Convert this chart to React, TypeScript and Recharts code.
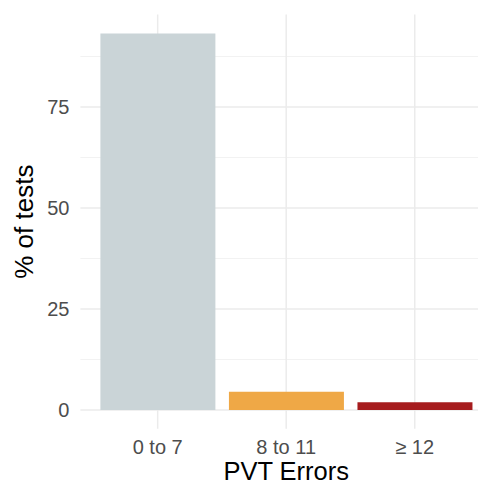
import React from "react";
import { BarChart, Bar, Cell, XAxis, YAxis, CartesianGrid } from "recharts";

const categories = ["0 to 7", "8 to 11", "≥ 12"];
const percentOfTests = [93.2, 4.5, 1.9];
const barColors = ["#cad4d7", "#efa846", "#a61c1e"];
const yTicks = [0, 25, 50, 75];
const yMinorTicks = [12.5, 37.5, 62.5, 87.5];

const data = categories.map((name, i) => ({ name, value: percentOfTests[i] }));

const FONT = '"Liberation Sans", Arial, Helvetica, sans-serif';
const X_PAD = 13;

// vertical grid lines at the centre of each category band
const categoryCentres = (props: any) => {
  const off = props.offset;
  const band = (off.width - 2 * X_PAD) / categories.length;
  return categories.map((_, i) => off.left + X_PAD + band * (i + 0.5));
};

const YTitle = (props: any) => {
  const vb = props.viewBox || {};
  const cx = 24;
  const cy = (vb.y || 0) + (vb.height || 0) / 2;
  return (
    <text
      x={cx}
      y={cy}
      transform={`rotate(-90 ${cx} ${cy})`}
      textAnchor="middle"
      dominantBaseline="central"
      fontSize={26}
      fontFamily={FONT}
      fill="#000"
    >
      % of tests
    </text>
  );
};

export default function App() {
  return (
    <div
      style={{
        position: "absolute",
        left: 0,
        top: 0,
        width: 478,
        height: 485,
        overflow: "hidden",
        background: "#fff",
      }}
    >
      <BarChart
        width={492}
        height={485}
        data={data}
        margin={{ top: 14.5, right: 0, left: 0, bottom: 0 }}
        barSize={115}
      >
        <CartesianGrid
          horizontalValues={yMinorTicks}
          vertical={false}
          stroke="#f2f2f2"
          strokeWidth={1}
        />
        <CartesianGrid
          horizontalValues={yTicks}
          verticalCoordinatesGenerator={categoryCentres}
          stroke="#ebebeb"
          strokeWidth={1.5}
        />
        <XAxis
          dataKey="name"
          height={56.2}
          padding={{ left: X_PAD, right: X_PAD }}
          tickLine={false}
          axisLine={false}
          tickSize={0}
          tickMargin={11.2}
          interval={0}
          tick={{ fontSize: 20, fill: "#4d4d4d", fontFamily: FONT }}
          label={{
            value: "PVT Errors",
            position: "insideBottom",
            offset: 5,
            fontSize: 25.5,
            fill: "#000",
            fontFamily: FONT,
          }}
        />
        <YAxis
          width={80.4}
          type="number"
          domain={[-4.66, 97.9]}
          allowDataOverflow
          ticks={yTicks}
          tickLine={false}
          axisLine={false}
          tickSize={0}
          tickMargin={11}
          tick={{ fontSize: 20, fill: "#4d4d4d", fontFamily: FONT }}
          label={{ position: "center", content: YTitle }}
        />
        <Bar dataKey="value" isAnimationActive={false}>
          {data.map((d, i) => (
            <Cell key={d.name} fill={barColors[i]} />
          ))}
        </Bar>
      </BarChart>
    </div>
  );
}
